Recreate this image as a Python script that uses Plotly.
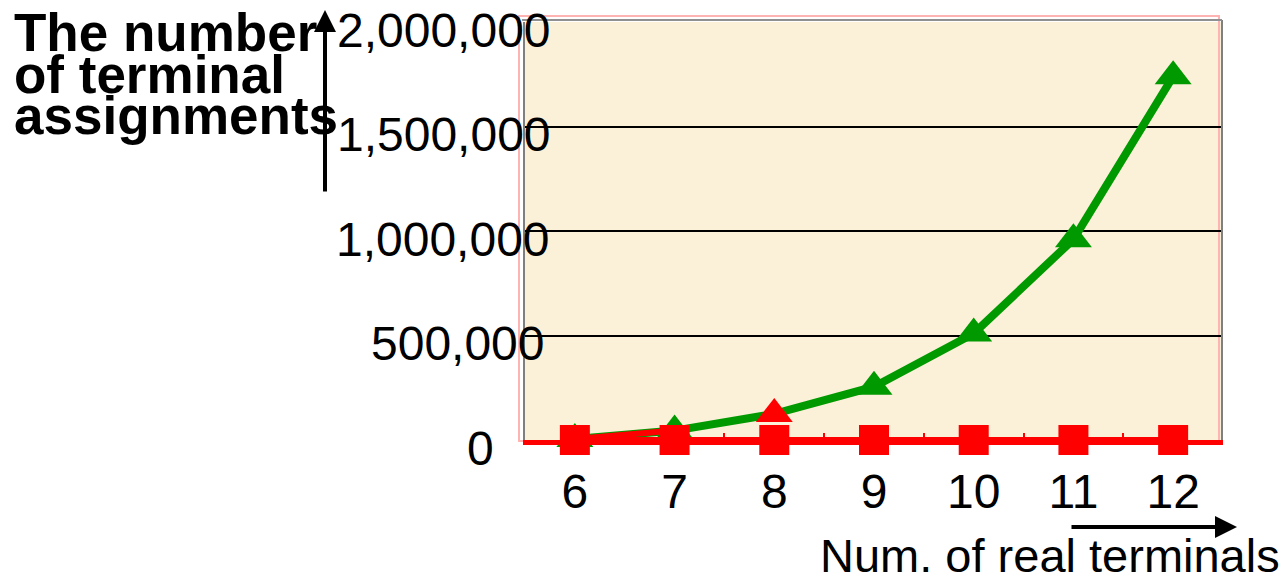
import plotly.graph_objects as go

# Number of real terminals (x categories)
terminals = [6, 7, 8, 9, 10, 11, 12]
# Number of terminal assignments for each size
assignments = [5000, 45000, 125000, 255000, 510000, 960000, 1740000]
# Second series, essentially flat at zero
baseline_series = [0, 0, 0, 0, 0, 0, 0]

y_ticks = [0, 500000, 1000000, 1500000, 2000000]
y_tick_text = ["0", "500,000", "1,000,000", "1,500,000", "2,000,000"]
x_tick_text = [str(t) for t in terminals]

FONT = "Liberation Sans, Arial, sans-serif"
GREEN = "#009900"
RED = "#ff0000"

W, H = 1287, 577
L, R, T, B = 525, 64, 22, 137
PW = W - L - R
PH = H - T - B


def xp(px):
    return (px - L) / PW


def yp(py):
    return (H - B - py) / PH


fig = go.Figure()

# Main curve
fig.add_trace(go.Scatter(
    x=terminals, y=assignments, mode="lines+markers",
    line=dict(color=GREEN, width=8),
    marker=dict(symbol="triangle-up", size=32,
                color=[RED if t == 8 else GREEN for t in terminals]),
    cliponaxis=False, showlegend=False,
))
# First segment of the curve is drawn in red
fig.add_trace(go.Scatter(
    x=terminals[:2], y=assignments[:2], mode="lines",
    line=dict(color=RED, width=6),
    cliponaxis=False, showlegend=False,
))
# Flat series along the axis
fig.add_trace(go.Scatter(
    x=terminals, y=baseline_series, mode="lines+markers",
    line=dict(color=RED, width=6),
    marker=dict(symbol="square", size=30, color=RED),
    cliponaxis=False, showlegend=False,
))

annotations = []
# y tick labels, placed individually
label_right_px = [496, 547, 552, 553, 553]
for v, txt, rx in zip(y_ticks, y_tick_text, label_right_px):
    annotations.append(dict(
        x=xp(rx), y=v, xref="paper", yref="y", text=txt, showarrow=False,
        xanchor="right", yanchor="middle", yshift=-8,
        font=dict(family=FONT, size=48, color="black"),
    ))

# Title lines (bold, tight leading)
for txt, cy in [("The number", 32), ("of terminal", 74), ("assignments", 115)]:
    annotations.append(dict(
        x=xp(12), y=yp(cy), xref="paper", yref="paper", text=txt,
        showarrow=False, xanchor="left", yanchor="middle",
        font=dict(family=FONT, size=53, color="black", weight="bold"),
    ))

# x axis caption
annotations.append(dict(
    x=xp(1282), y=yp(555), xref="paper", yref="paper",
    text="Num. of real terminals", showarrow=False,
    xanchor="right", yanchor="middle",
    font=dict(family=FONT, size=47, color="black"),
))

# Vertical arrow
annotations.append(dict(
    x=xp(325), y=yp(10), xref="paper", yref="paper", text="",
    showarrow=True, ax=0, ay=183, arrowhead=2, arrowsize=1.1,
    arrowwidth=4, arrowcolor="black", standoff=0,
))
# Horizontal arrow
annotations.append(dict(
    x=xp(1237), y=yp(527), xref="paper", yref="paper", text="",
    showarrow=True, ax=-167, ay=0, arrowhead=2, arrowsize=1.1,
    arrowwidth=4, arrowcolor="black", standoff=0,
))

shapes = [
    # light red frame around the plot area
    dict(type="rect", xref="paper", yref="paper",
         x0=xp(519), x1=xp(1219), y0=yp(441), y1=yp(16),
         line=dict(color="#ffb4b4", width=2), layer="below"),
    # grey edge on the right and top
    dict(type="line", xref="paper", yref="paper",
         x0=xp(1222), x1=xp(1222), y0=yp(440), y1=yp(20),
         line=dict(color="#808080", width=2)),
    dict(type="line", xref="paper", yref="paper",
         x0=xp(522), x1=xp(1222), y0=yp(20), y1=yp(20),
         line=dict(color="#909090", width=2)),
]

fig.update_layout(
    width=W, height=H,
    margin=dict(l=L, r=R, t=T, b=B, pad=0),
    paper_bgcolor="white",
    plot_bgcolor="#fbf0d8",
    font=dict(family=FONT, size=48, color="black"),
    annotations=annotations,
    shapes=shapes,
    xaxis=dict(
        range=[5.5, 12.5], tickmode="array", tickvals=terminals,
        ticktext=x_tick_text, ticks="", showgrid=False, zeroline=False,
        showline=True, linecolor=RED, linewidth=5,
        tickfont=dict(family=FONT, size=48, color="black"),
        ticklabelstandoff=5,
        minor=dict(tickmode="array", tickvals=[6.5, 7.5, 8.5, 9.5, 10.5, 11.5],
                   ticks="inside", ticklen=7, tickwidth=2, tickcolor=RED),
    ),
    yaxis=dict(
        range=[0, 2000000], tickmode="array", tickvals=y_ticks,
        showticklabels=False, ticks="", showgrid=True, gridcolor="black",
        gridwidth=2, zeroline=False, showline=True, linecolor="#7f7f7f",
        linewidth=2,
    ),
)

fig.write_html("out.html")
